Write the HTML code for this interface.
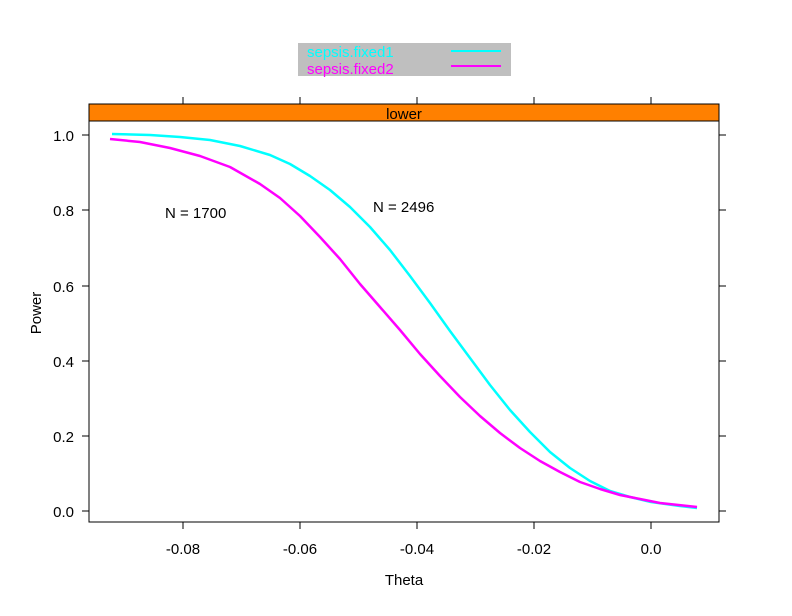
<!DOCTYPE html>
<html><head><style>body{margin:0;background:#fff}</style></head><body>
<svg width="792" height="611" xmlns="http://www.w3.org/2000/svg" font-family="Liberation Sans, Arial, sans-serif" font-size="15">
<rect x="298" y="43" width="213" height="33" fill="#bfbfbf"/>
<text x="307" y="57" fill="#00ffff">sepsis.fixed1</text>
<text x="307" y="74" fill="#ff00ff">sepsis.fixed2</text>
<line x1="451" y1="51" x2="501" y2="51" stroke="#00ffff" stroke-width="2"/>
<line x1="451" y1="66" x2="501" y2="66" stroke="#ff00ff" stroke-width="2"/>
<rect x="89" y="104" width="630" height="17" fill="#ff8000" stroke="#000"/>
<text x="404" y="119" text-anchor="middle">lower</text>
<rect x="89" y="121" width="630" height="401" fill="none" stroke="#000"/>
<g stroke="#000">
<line x1="183" y1="522" x2="183" y2="529"/><line x1="300" y1="522" x2="300" y2="529"/><line x1="417" y1="522" x2="417" y2="529"/><line x1="534" y1="522" x2="534" y2="529"/><line x1="651" y1="522" x2="651" y2="529"/>
<line x1="183" y1="104" x2="183" y2="97"/><line x1="300" y1="104" x2="300" y2="97"/><line x1="417" y1="104" x2="417" y2="97"/><line x1="534" y1="104" x2="534" y2="97"/><line x1="651" y1="104" x2="651" y2="97"/>
<line x1="82" y1="135" x2="89" y2="135"/><line x1="82" y1="210" x2="89" y2="210"/><line x1="82" y1="286" x2="89" y2="286"/><line x1="82" y1="361" x2="89" y2="361"/><line x1="82" y1="436" x2="89" y2="436"/><line x1="82" y1="511" x2="89" y2="511"/>
<line x1="719" y1="135" x2="726" y2="135"/><line x1="719" y1="210" x2="726" y2="210"/><line x1="719" y1="286" x2="726" y2="286"/><line x1="719" y1="361" x2="726" y2="361"/><line x1="719" y1="436" x2="726" y2="436"/><line x1="719" y1="511" x2="726" y2="511"/>
</g>
<g text-anchor="middle">
<text x="183" y="554">-0.08</text><text x="300" y="554">-0.06</text><text x="417" y="554">-0.04</text><text x="534" y="554">-0.02</text><text x="651" y="554">0.0</text>
<text x="404" y="585">Theta</text>
</g>
<g text-anchor="end">
<text x="74" y="141">1.0</text><text x="74" y="216">0.8</text><text x="74" y="292">0.6</text><text x="74" y="367">0.4</text><text x="74" y="442">0.2</text><text x="74" y="517">0.0</text>
</g>
<text transform="translate(41,313) rotate(-90)" text-anchor="middle">Power</text>
<text x="165" y="218">N = 1700</text>
<text x="373" y="212">N = 2496</text>
<polyline points="112,134 150,135 180,137 210,140 240,146 270,155 290,164 310,176 330,190 350,207 370,227 390,250 410,276 430,303 450,331 470,358 490,385 510,410 530,432 550,452 570,468 590,481 610,491 630,497 651,502 680,506 697,508" fill="none" stroke="#00ffff" stroke-width="2.5" stroke-linejoin="round"/>
<polyline points="110,139 140,142 170,148 200,156 230,167 260,184 280,198 300,216 320,237 340,259 360,284 380,307 400,330 420,354 440,376 460,397 480,416 500,433 520,448 540,461 560,472 580,482 600,489 620,495 640,499 660,503 697,507" fill="none" stroke="#ff00ff" stroke-width="2.5" stroke-linejoin="round"/>
</svg>
</body></html>
